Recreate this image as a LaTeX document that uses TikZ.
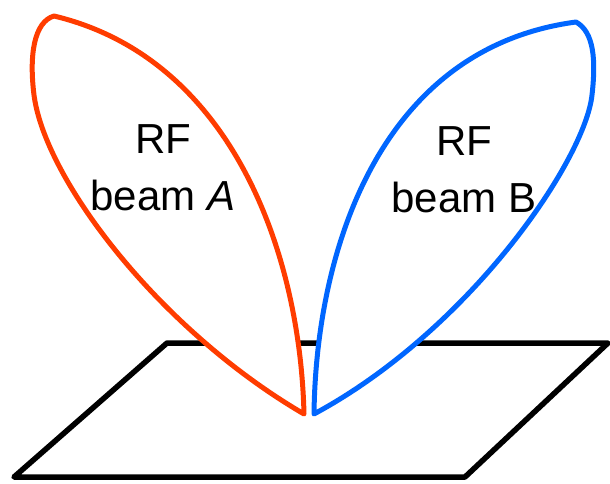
\documentclass[tikz,border=0pt]{standalone}
\usepackage{fontspec}
\setmainfont{Liberation Sans}
\definecolor{beamred}{RGB}{255,60,0}
\definecolor{beamblue}{RGB}{0,102,255}
\begin{document}
\begin{tikzpicture}[x=1pt,y=-1pt,
  plane/.style={line width=5.5pt, line join=round, black},
  lobe/.style={line width=5pt, line join=round, fill=white},
  lbl/.style={font=\fontsize{42}{57}\selectfont, align=center, text=black}]
\useasboundingbox (0,0) rectangle (610,484);
% ground plane
\draw[plane] (167,343) -- (608,343) -- (465,477) -- (14,477) -- cycle;
% red lobe (beam A)
\coordinate (ta) at (304,414);
\coordinate (pa) at (54,16);
\coordinate (sa) at (34,95);
\draw[lobe, draw=beamred] (ta) .. controls (300,250) and (230,58) .. (pa)
   .. controls (34,22) and (29,55) .. (sa)
   .. controls (45,180) and (160,330) .. (ta) -- cycle;
% blue lobe (beam B)
\coordinate (tb) at (314,414);
\coordinate (pb) at (576,22);
\coordinate (sb) at (592,95);
\draw[lobe, draw=beamblue] (tb) .. controls (316,250) and (380,48) .. (pb)
   .. controls (594,32) and (596,60) .. (sb)
   .. controls (585,160) and (470,330) .. (tb) -- cycle;
\node[lbl] (la) at (163,168) {RF\\beam \textit{A}};
\node[lbl] (lb) at (464,170) {RF\\beam B};
\end{tikzpicture}
\end{document}
